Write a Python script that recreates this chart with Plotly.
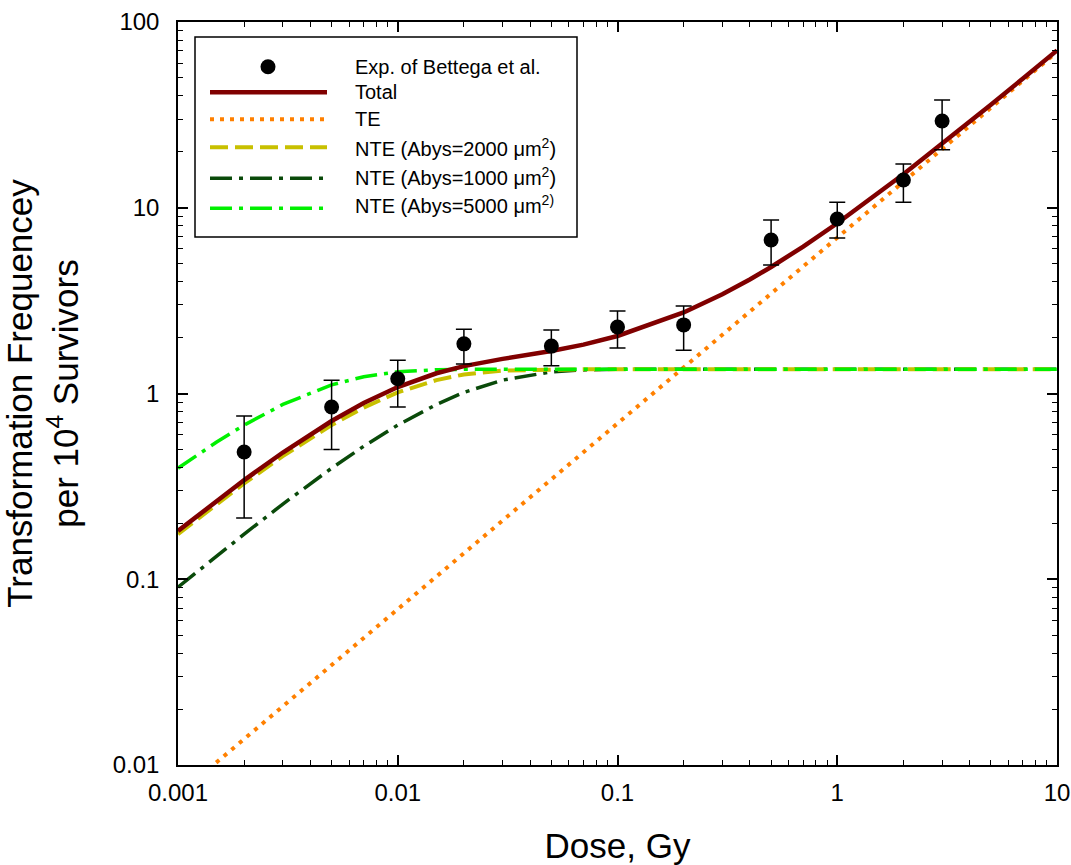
import plotly.graph_objects as go

# ---------------- data ----------------
dose_exp = [0.002, 0.005, 0.01, 0.02, 0.05, 0.1, 0.2, 0.5, 1.0, 2.0, 3.0]
freq_exp = [0.484, 0.846, 1.20, 1.85, 1.80, 2.28, 2.34, 6.70, 8.7, 14.1, 29.3]
freq_hi = [0.757, 1.18, 1.51, 2.22, 2.20, 2.78, 2.96, 8.59, 10.7, 17.2, 38.0]
freq_lo = [0.214, 0.50, 0.845, 1.44, 1.41, 1.76, 1.71, 4.92, 6.87, 10.7, 20.5]

dose_model = [0.001, 0.0015, 0.002, 0.003, 0.005, 0.007, 0.01, 0.015, 0.02, 0.03,
              0.05, 0.07, 0.1, 0.2, 0.3, 0.4, 0.5, 0.7, 1.0, 2.0, 3.0, 5.0, 7.0, 10.0]
total = [0.182, 0.264, 0.342, 0.481, 0.711, 0.888, 1.083, 1.285, 1.404, 1.536,
         1.694, 1.833, 2.04, 2.73, 3.42, 4.11, 4.80, 6.18, 8.25, 15.15, 22.05, 35.85, 49.65, 70.35]
te = [0.0069, 0.01035, 0.0138, 0.0207, 0.0345, 0.0483, 0.069, 0.1035, 0.138, 0.207,
      0.345, 0.483, 0.69, 1.38, 2.07, 2.76, 3.45, 4.83, 6.9, 13.8, 20.7, 34.5, 48.3, 69.0]
nte_2000 = [0.175, 0.254, 0.328, 0.460, 0.676, 0.840, 1.014, 1.181, 1.266, 1.329,
            1.349, 1.35, 1.35, 1.35, 1.35, 1.35, 1.35, 1.35, 1.35, 1.35, 1.35, 1.35, 1.35, 1.35]
nte_1000 = [0.0906, 0.134, 0.175, 0.254, 0.396, 0.520, 0.676, 0.873, 1.014, 1.181,
            1.308, 1.340, 1.349, 1.35, 1.35, 1.35, 1.35, 1.35, 1.35, 1.35, 1.35, 1.35, 1.35, 1.35]
nte_5000 = [0.396, 0.548, 0.676, 0.873, 1.113, 1.231, 1.308, 1.343, 1.349, 1.35,
            1.35, 1.35, 1.35, 1.35, 1.35, 1.35, 1.35, 1.35, 1.35, 1.35, 1.35, 1.35, 1.35, 1.35]

x_tickvals = [0.001, 0.01, 0.1, 1, 10]
x_ticktext = ["0.001", "0.01", "0.1", "1", "10"]
y_tickvals = [0.01, 0.1, 1, 10, 100]
y_ticktext = ["0.01", "0.1", "1", "10", "100"]

legend_labels = ["Exp. of Bettega et al.", "Total", "TE",
                 "NTE (Abys=2000 \u03bcm<sup>2</sup>)",
                 "NTE (Abys=1000 \u03bcm<sup>2</sup>)",
                 "NTE (Abys=5000 \u03bcm<sup>2)</sup>"]

# ---------------- styles ----------------
C_TOTAL = "#800000"
C_TE = "#FF8000"
C_2000 = "#C8C000"
C_1000 = "#0A4A0A"
C_5000 = "#00F000"
DASH_TE = "4px,6px"
DASH_2000 = "18px,7px"
DASH_DD = "22px,7px,4px,7px"
FONT = "Liberation Sans, Arial, sans-serif"

W, H = 1071, 865
ML, MR, MT, MB = 178, 14, 22, 100
PW, PH = W - ML - MR, H - MT - MB

err_plus = [h - y for h, y in zip(freq_hi, freq_exp)]
err_minus = [y - l for y, l in zip(freq_exp, freq_lo)]

fig = go.Figure()
fig.add_trace(go.Scatter(x=dose_model, y=te, mode="lines", name="TE",
                         line=dict(color=C_TE, width=4, dash=DASH_TE)))
fig.add_trace(go.Scatter(x=dose_model, y=nte_1000, mode="lines", name="NTE 1000",
                         line=dict(color=C_1000, width=3.5, dash=DASH_DD)))
fig.add_trace(go.Scatter(x=dose_model, y=nte_2000, mode="lines", name="NTE 2000",
                         line=dict(color=C_2000, width=4, dash=DASH_2000)))
fig.add_trace(go.Scatter(x=dose_model, y=nte_5000, mode="lines", name="NTE 5000",
                         line=dict(color=C_5000, width=3.5, dash=DASH_DD)))
fig.add_trace(go.Scatter(x=dose_model, y=total, mode="lines", name="Total",
                         line=dict(color=C_TOTAL, width=4.5)))
fig.add_trace(go.Scatter(x=dose_exp, y=freq_exp, mode="markers", name="Exp",
                         marker=dict(color="black", size=15),
                         error_y=dict(type="data", array=err_plus, arrayminus=err_minus,
                                      color="black", thickness=1.5, width=8)))

# ---------------- hand-drawn legend (long line samples as in the original) ----------------
def px_x(p):
    return (p - ML) / PW

def px_y(p):
    return (MT + PH - p) / PH

shapes = [dict(type="rect", xref="paper", yref="paper",
               x0=px_x(195), x1=px_x(577), y0=px_y(237), y1=px_y(37),
               line=dict(color="black", width=1.5), fillcolor="white", layer="above")]
row_y = [66.7, 92.3, 119.3, 147.3, 178.3, 208.3]
text_y = [66.7, 92.3, 119.3, 147.3, 176.3, 204.3]
samples = [None, (C_TOTAL, 4.5, "solid"), (C_TE, 4, DASH_TE), (C_2000, 4, DASH_2000),
           (C_1000, 3.5, DASH_DD), (C_5000, 3.5, DASH_DD)]
for ry, s in zip(row_y, samples):
    if s is None:
        shapes.append(dict(type="circle", xref="paper", yref="paper",
                           xsizemode="pixel", ysizemode="pixel",
                           xanchor=px_x(268), yanchor=px_y(ry),
                           x0=-7.5, x1=7.5, y0=-7.5, y1=7.5,
                           fillcolor="black", line=dict(color="black", width=0), layer="above"))
    else:
        c, w, d = s
        shapes.append(dict(type="line", xref="paper", yref="paper",
                           x0=px_x(210), x1=px_x(327), y0=px_y(ry), y1=px_y(ry),
                           line=dict(color=c, width=w, dash=d), layer="above"))

annotations = []
for ty, lab in zip(text_y, legend_labels):
    annotations.append(dict(text=lab, xref="paper", yref="paper", x=px_x(353), y=px_y(ty),
                            xanchor="left", yanchor="middle", showarrow=False,
                            font=dict(family=FONT, size=20, color="black")))

axis_common = dict(type="log", showline=True, linecolor="black", linewidth=1.5,
                   mirror="ticks", ticks="inside", ticklen=10, tickwidth=1.5, tickcolor="black",
                   showgrid=False, zeroline=False,
                   tickfont=dict(family=FONT, size=24, color="black"),
                   minor=dict(ticks="inside", ticklen=5, tickwidth=1, tickcolor="black",
                              dtick="D1", showgrid=False))

fig.update_layout(
    width=W, height=H,
    margin=dict(l=ML, r=MR, t=MT, b=MB, autoexpand=False),
    paper_bgcolor="white", plot_bgcolor="white",
    showlegend=False,
    font=dict(family=FONT, color="black"),
    xaxis=dict(axis_common, range=[-3, 1], tickmode="array", tickvals=x_tickvals,
               ticktext=x_ticktext, ticklabelstandoff=5,
               title=dict(text="Dose, Gy", font=dict(family=FONT, size=35), standoff=30)),
    yaxis=dict(axis_common, range=[-2, 2], tickmode="array", tickvals=y_tickvals,
               ticktext=y_ticktext, ticklabelstandoff=12,
               title=dict(text="Transformation Frequencey<br>per 10<sup>4</sup> Survivors",
                          font=dict(family=FONT, size=35), standoff=26)),
    shapes=shapes,
    annotations=annotations,
)

# remove the browser's default 8px page margin so the figure fills the window exactly
fig.write_html("out.html",
               config={"displayModeBar": False},
               post_script=["document.body.style.margin='0';document.body.style.overflow='hidden';"])
